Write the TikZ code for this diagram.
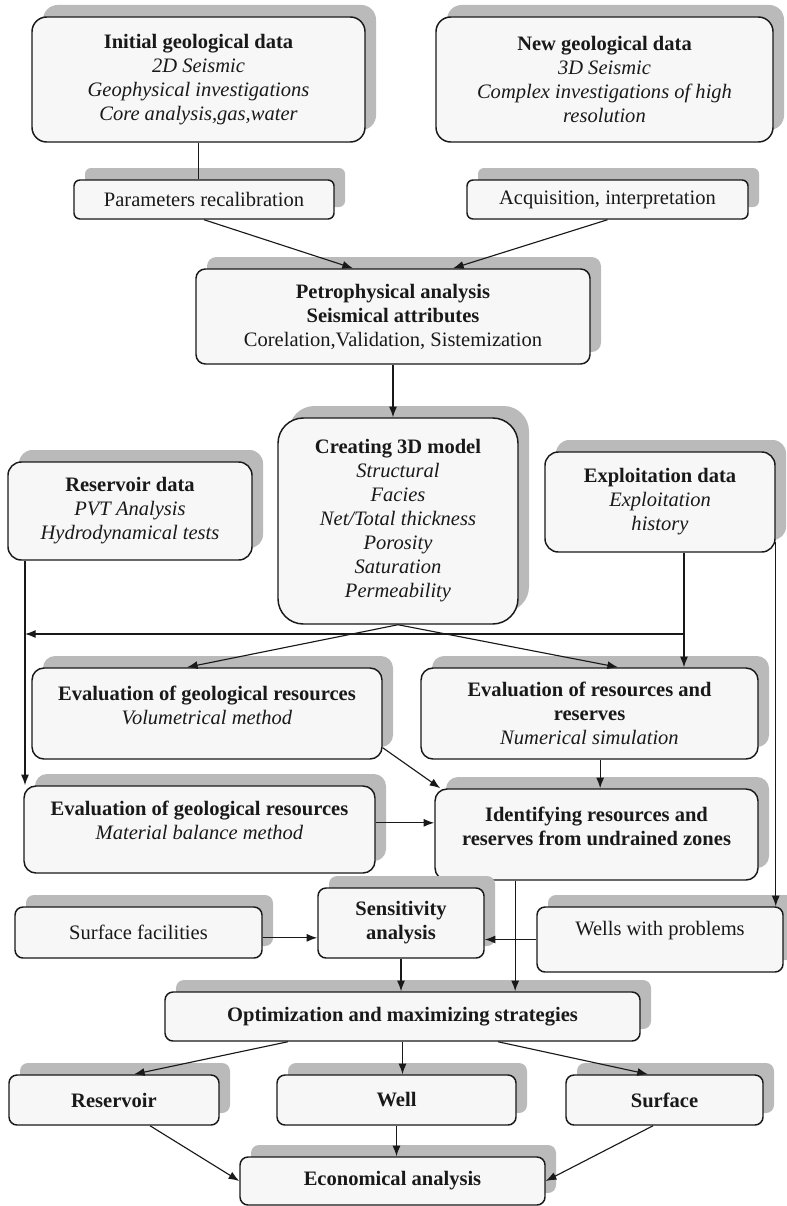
\documentclass[tikz,border=0pt]{standalone}
\usepackage{fontspec}
\setmainfont{Liberation Serif}
\usepackage{tikz}
\usetikzlibrary{arrows.meta, shadows}

\begin{document}
\begin{tikzpicture}[x=0.75pt, y=-0.75pt]
	\tikzstyle{box} = [rectangle, draw=black!90, line width=1.1pt, fill=black!3,
	text=black!90, align=center, font=\fontsize{15.4}{18}\selectfont,
	inner sep=2pt, drop shadow={shadow xshift=8.25pt, shadow yshift=9pt,
	fill=black!27, opacity=1}]
	\tikzstyle{arrow} = [line width=0.85pt, draw=black!90, ->,
	>={Latex[length=8pt, width=6pt]}]
	\tikzstyle{line} = [line width=0.85pt, draw=black!90]
	\useasboundingbox (0,0) rectangle (786,1206);
	% data sources
	\node (init) [box, rounded corners=11pt, minimum width=249.75pt, 
	minimum height=93.75pt] at (198.5,79.5) {\textbf{Initial geological data}\\ 
	\textit{2D Seismic}\\ \textit{Geophysical investigations}\\ 
	\textit{Core analysis,gas,water}};
	\node (newgeo) [box, rounded corners=11pt, minimum width=252.75pt, 
	minimum height=93.75pt] at (604.5,79.5) {\textbf{New geological data}\\ 
	\textit{3D Seismic}\\ \textit{Complex investigations of high}\\ 
	\textit{resolution}};
	\node (recal) [box, rounded corners=4.5pt, minimum width=195pt, 
	minimum height=29.25pt] at (204,199.5) {Parameters recalibration};
	\node (acq) [box, rounded corners=4.5pt, minimum width=210.75pt, 
	minimum height=29.25pt] at (607.5,199.5) {Acquisition, interpretation};
	\node (petro) [box, rounded corners=7pt, minimum width=295.5pt, 
	minimum height=71.25pt] at (393,316.5) {\textbf{Petrophysical analysis}\\ 
	\textbf{Seismical attributes}\\ Corelation,Validation, Sistemization};
	% model and data
	\node (model) [box, rounded corners=19pt, minimum width=180pt, 
	minimum height=154.5pt] at (398,521) {\textbf{Creating 3D model}\\ 
	\textit{Structural}\\ \textit{Facies}\\ \textit{Net/Total thickness}\\ 
	\textit{Porosity}\\ \textit{Saturation}\\ \textit{Permeability}};
	\node (resdata) [box, rounded corners=10pt, minimum width=183pt, 
	minimum height=73.5pt] at (130,511) {\textbf{Reservoir data}\\ 
	\textit{PVT Analysis}\\ \textit{Hydrodynamical tests}};
	\node (expdata) [box, rounded corners=10pt, minimum width=172.5pt, 
	minimum height=75pt] at (660,502) {\textbf{Exploitation data}\\ 
	\textit{Exploitation}\\ \textit{history}};
	% evaluation
	\node (volum) [box, rounded corners=9pt, minimum width=262.5pt, 
	minimum height=68.25pt, text depth=13pt] at (207,713.5) 
	{\textbf{Evaluation of geological resources}\\ \textit{Volumetrical method}};
	\node (numsim) [box, rounded corners=9pt, minimum width=252.75pt, 
	minimum height=68.25pt] at (589.5,713.5) 
	{\textbf{Evaluation of resources and}\\ \textbf{reserves}\\ 
	\textit{Numerical simulation}};
	\node (matbal) [box, rounded corners=9pt, minimum width=263.25pt, 
	minimum height=65.25pt, text depth=14pt] at (199.5,829.5) 
	{\textbf{Evaluation of geological resources}\\ \textit{Material balance method}};
	\node (undrained) [box, rounded corners=9pt, minimum width=242.25pt, 
	minimum height=68.25pt, text depth=13pt] at (596.5,834.5) 
	{\textbf{Identifying resources and}\\ \textbf{reserves from undrained zones}};
	% analysis and strategies
	\node (facil) [box, rounded corners=6pt, minimum width=185.25pt, 
	minimum height=38.25pt] at (138.5,932.5) {Surface facilities};
	\node (sensit) [box, rounded corners=6pt, minimum width=124.5pt, 
	minimum height=52.5pt] at (401,923) {\textbf{Sensitivity}\\ \textbf{analysis}};
	\node (wells) [box, rounded corners=6pt, minimum width=184.5pt, 
	minimum height=48.75pt, text depth=17pt] at (660,939.5) {Wells with problems};
	\node (optim) [box, rounded corners=6pt, minimum width=356.25pt, 
	minimum height=36.75pt] at (402.5,1016.5) 
	{\textbf{Optimization and maximizing strategies}};
	\node (reservoir) [box, rounded corners=6pt, minimum width=157.5pt, 
	minimum height=37.5pt] at (114,1100) {\textbf{Reservoir}};
	\node (well) [box, rounded corners=6pt, minimum width=179.25pt, 
	minimum height=37.5pt] at (396.5,1100) {\textbf{Well}};
	\node (surface) [box, rounded corners=6pt, minimum width=147.75pt, 
	minimum height=37.5pt] at (664.5,1100) {\textbf{Surface}};
	\node (econ) [box, rounded corners=6pt, minimum width=228.75pt, 
	minimum height=36pt] at (392.5,1181) {\textbf{Economical analysis}};
	\coordinate (jL) at (25,634);
	\coordinate (jR) at (684,634);
	% connectors
	\draw [line] (init.south) -- (init.south |- recal.north);
	\draw [arrow] (recal.south) -- ([xshift=-30pt]petro.north);
	\draw [arrow] (acq.south) -- ([xshift=45pt]petro.north);
	\draw [arrow] (petro.south) -- (petro.south |- model.north);
	\draw [arrow] (model.south) -- ([xshift=-15pt]volum.north);
	\draw [arrow] (model.south) -- ([xshift=21.4pt]numsim.north);
	\draw [arrow] ([xshift=18pt]expdata.south) -- ([xshift=18pt]expdata.south |- numsim.north);
	\draw [arrow] (jR) -- (jL);
	\draw [arrow] (resdata.south west -| jL) -- (matbal.north west -| jL);
	\draw [arrow] ([yshift=8pt]expdata.south east) -- (expdata.south east |- wells.north);
	\draw [arrow] ([yshift=9pt]volum.south east) -- ([xshift=4.5pt]undrained.north west);
	\draw [arrow] ([xshift=8pt]numsim.south) -- ([xshift=8pt]numsim.south |- undrained.north);
	\draw [arrow] ([yshift=5pt]matbal.east) -- ([yshift=5pt]matbal.east -| undrained.west);
	\draw [arrow] ([yshift=-4pt]facil.east) -- ([yshift=-4pt]facil.east -| sensit.west);
	\draw [arrow] (wells.west) -- (wells.west -| sensit.east);
	\draw [arrow] ([xshift=-61pt]undrained.south) -- ([xshift=-61pt]undrained.south |- optim.north);
	\draw [arrow] (sensit.south) -- (sensit.south |- optim.north);
	\draw [arrow] ([xshift=-86pt]optim.south) -- ([xshift=15pt]reservoir.north);
	\draw [arrow] (optim.south) -- (optim.south |- well.north);
	\draw [arrow] ([xshift=71.6pt]optim.south) -- ([xshift=-12.4pt]surface.north);
	\draw [arrow] ([xshift=27pt]reservoir.south) -- (econ.west);
	\draw [arrow] (well.south) -- (well.south |- econ.north);
	\draw [arrow] ([xshift=-8.6pt]surface.south) -- (econ.east);
\end{tikzpicture}
\end{document}
